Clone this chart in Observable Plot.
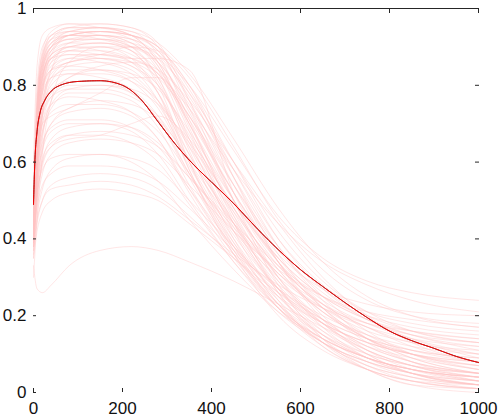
<!DOCTYPE html>
<html>
<head>
<meta charset="utf-8">
<script src="https://cdn.jsdelivr.net/npm/d3@7"></script>
<script src="https://cdn.jsdelivr.net/npm/@observablehq/plot@0.6"></script>
<style>
  html, body { margin: 0; padding: 0; background: #fff; }
  #chart svg { display: block; }
</style>
</head>
<body>
<div id="chart"></div>
<script>
// Shared x grid for the individual (pink) runs
const xs = [0, 8, 20, 40, 80, 150, 220, 280, 350, 450, 550, 650, 750, 850, 1000];

// Individual runs: y values at xs
const runs = [
  [0.45,0.72,0.86,0.92,0.95,0.96,0.95,0.90,0.74,0.50,0.30,0.17,0.09,0.05,0.02],
  [0.42,0.68,0.83,0.90,0.94,0.95,0.93,0.86,0.70,0.47,0.29,0.18,0.11,0.07,0.04],
  [0.48,0.75,0.88,0.93,0.95,0.95,0.93,0.89,0.78,0.56,0.36,0.22,0.13,0.08,0.05],
  [0.40,0.60,0.78,0.88,0.93,0.94,0.92,0.85,0.68,0.44,0.26,0.14,0.07,0.03,0.01],
  [0.44,0.70,0.84,0.90,0.93,0.93,0.91,0.84,0.66,0.42,0.24,0.12,0.06,0.03,0.01],
  [0.46,0.74,0.87,0.92,0.94,0.94,0.93,0.90,0.80,0.60,0.40,0.27,0.19,0.15,0.12],
  [0.38,0.55,0.72,0.84,0.91,0.93,0.92,0.87,0.73,0.52,0.34,0.22,0.14,0.10,0.06],
  [0.43,0.66,0.82,0.89,0.92,0.92,0.90,0.82,0.63,0.40,0.23,0.13,0.07,0.04,0.02],
  [0.47,0.73,0.85,0.90,0.92,0.93,0.92,0.88,0.77,0.58,0.40,0.28,0.21,0.18,0.16],
  [0.41,0.64,0.80,0.87,0.90,0.91,0.89,0.80,0.60,0.38,0.22,0.12,0.06,0.03,0.01],
  [0.45,0.69,0.82,0.88,0.90,0.90,0.88,0.83,0.70,0.50,0.34,0.24,0.18,0.14,0.10],
  [0.39,0.58,0.74,0.84,0.89,0.90,0.87,0.78,0.58,0.36,0.20,0.11,0.06,0.03,0.02],
  [0.44,0.67,0.80,0.86,0.88,0.88,0.86,0.80,0.66,0.46,0.30,0.19,0.12,0.08,0.05],
  [0.46,0.71,0.83,0.87,0.88,0.87,0.85,0.78,0.62,0.42,0.27,0.17,0.11,0.07,0.04],
  [0.42,0.62,0.76,0.83,0.86,0.87,0.86,0.82,0.72,0.54,0.38,0.27,0.20,0.16,0.13],
  [0.40,0.57,0.72,0.81,0.85,0.86,0.84,0.76,0.58,0.37,0.22,0.13,0.08,0.05,0.03],
  [0.43,0.63,0.76,0.82,0.84,0.84,0.82,0.75,0.60,0.41,0.27,0.18,0.13,0.10,0.08],
  [0.45,0.66,0.78,0.82,0.83,0.82,0.79,0.72,0.57,0.38,0.24,0.15,0.09,0.06,0.04],
  [0.37,0.52,0.66,0.76,0.82,0.84,0.83,0.79,0.68,0.50,0.35,0.25,0.19,0.15,0.11],
  [0.41,0.58,0.70,0.77,0.80,0.80,0.78,0.71,0.56,0.37,0.23,0.14,0.09,0.06,0.03],
  [0.44,0.62,0.72,0.77,0.79,0.79,0.77,0.72,0.60,0.44,0.31,0.22,0.16,0.13,0.10],
  [0.39,0.55,0.67,0.74,0.78,0.78,0.76,0.69,0.54,0.36,0.22,0.13,0.08,0.05,0.02],
  [0.42,0.58,0.68,0.73,0.75,0.75,0.73,0.68,0.57,0.42,0.30,0.22,0.17,0.14,0.12],
  [0.40,0.54,0.64,0.70,0.73,0.74,0.72,0.66,0.53,0.36,0.23,0.15,0.10,0.07,0.05],
  [0.43,0.57,0.65,0.69,0.71,0.71,0.69,0.64,0.53,0.38,0.26,0.18,0.13,0.10,0.07],
  [0.38,0.50,0.60,0.66,0.69,0.70,0.69,0.65,0.56,0.43,0.31,0.23,0.18,0.15,0.13],
  [0.41,0.53,0.61,0.65,0.67,0.67,0.65,0.60,0.49,0.34,0.22,0.14,0.09,0.06,0.04],
  [0.39,0.49,0.57,0.62,0.65,0.66,0.65,0.62,0.54,0.42,0.32,0.25,0.21,0.19,0.17],
  [0.42,0.52,0.58,0.61,0.62,0.62,0.60,0.55,0.45,0.32,0.21,0.14,0.09,0.06,0.04],
  [0.37,0.46,0.53,0.58,0.61,0.62,0.61,0.58,0.50,0.38,0.27,0.19,0.14,0.11,0.09],
  [0.40,0.48,0.54,0.57,0.59,0.59,0.58,0.55,0.48,0.37,0.27,0.20,0.15,0.12,0.10],
  [0.36,0.44,0.50,0.54,0.56,0.57,0.56,0.53,0.46,0.35,0.25,0.18,0.13,0.10,0.08],
  [0.38,0.45,0.50,0.53,0.54,0.55,0.54,0.51,0.45,0.36,0.28,0.22,0.18,0.16,0.14],
  [0.35,0.42,0.47,0.50,0.52,0.53,0.52,0.50,0.44,0.35,0.26,0.19,0.14,0.11,0.09],
  [0.33,0.27,0.26,0.28,0.33,0.37,0.38,0.37,0.34,0.29,0.23,0.17,0.12,0.09,0.06],
  [0.45,0.70,0.82,0.87,0.89,0.88,0.87,0.87,0.84,0.52,0.34,0.22,0.14,0.09,0.05],
  [0.46,0.72,0.85,0.90,0.92,0.92,0.91,0.88,0.80,0.63,0.46,0.35,0.29,0.26,0.24],
  [0.43,0.67,0.81,0.87,0.89,0.89,0.87,0.83,0.74,0.58,0.44,0.34,0.28,0.24,0.21],
  [0.44,0.70,0.84,0.90,0.93,0.94,0.93,0.90,0.82,0.64,0.45,0.32,0.24,0.20,0.18],
  [0.47,0.76,0.89,0.94,0.96,0.96,0.95,0.91,0.76,0.50,0.28,0.14,0.06,0.02,0.00],
  [0.44,0.71,0.85,0.91,0.94,0.95,0.94,0.88,0.71,0.46,0.26,0.13,0.06,0.02,0.01],
  [0.41,0.65,0.81,0.89,0.93,0.94,0.93,0.89,0.76,0.54,0.34,0.20,0.11,0.06,0.03],
  [0.45,0.72,0.86,0.91,0.93,0.93,0.91,0.85,0.70,0.48,0.30,0.18,0.10,0.05,0.02],
  [0.48,0.77,0.88,0.92,0.93,0.92,0.89,0.81,0.64,0.43,0.27,0.16,0.09,0.05,0.02],
  [0.43,0.68,0.82,0.88,0.91,0.92,0.90,0.86,0.75,0.56,0.38,0.25,0.16,0.10,0.06],
  [0.40,0.62,0.78,0.86,0.90,0.91,0.90,0.87,0.78,0.60,0.42,0.29,0.21,0.16,0.13],
  [0.46,0.70,0.83,0.88,0.90,0.89,0.86,0.78,0.60,0.39,0.23,0.13,0.07,0.04,0.02],
  [0.42,0.64,0.78,0.84,0.87,0.88,0.87,0.83,0.71,0.52,0.35,0.23,0.15,0.10,0.07],
  [0.44,0.66,0.79,0.85,0.87,0.86,0.83,0.76,0.62,0.44,0.29,0.19,0.12,0.08,0.05],
  [0.39,0.59,0.74,0.82,0.86,0.87,0.85,0.80,0.67,0.48,0.32,0.21,0.14,0.10,0.07],
  [0.45,0.67,0.79,0.84,0.85,0.84,0.81,0.74,0.59,0.40,0.25,0.15,0.09,0.06,0.03],
  [0.41,0.60,0.73,0.80,0.83,0.83,0.81,0.76,0.64,0.47,0.33,0.23,0.17,0.13,0.11],
  [0.43,0.62,0.74,0.79,0.81,0.81,0.78,0.71,0.57,0.39,0.25,0.16,0.10,0.07,0.05],
  [0.40,0.56,0.68,0.75,0.79,0.80,0.79,0.75,0.65,0.49,0.35,0.25,0.19,0.16,0.14],
  [0.44,0.60,0.70,0.75,0.77,0.76,0.73,0.66,0.52,0.35,0.22,0.14,0.09,0.06,0.04],
  [0.38,0.52,0.63,0.70,0.74,0.76,0.75,0.71,0.61,0.45,0.31,0.21,0.15,0.11,0.08],
  [0.42,0.55,0.63,0.68,0.70,0.70,0.68,0.62,0.50,0.34,0.21,0.13,0.08,0.05,0.03],
  [0.40,0.51,0.59,0.64,0.67,0.68,0.67,0.64,0.56,0.44,0.33,0.25,0.20,0.17,0.15],
  [0.46,0.73,0.87,0.93,0.95,0.95,0.94,0.91,0.83,0.66,0.48,0.34,0.25,0.20,0.17],
  [0.47,0.74,0.86,0.91,0.93,0.94,0.93,0.90,0.79,0.58,0.38,0.24,0.14,0.08,0.04],
  [0.60,0.85,0.93,0.95,0.96,0.95,0.93,0.86,0.69,0.45,0.27,0.15,0.08,0.04,0.01],
  [0.55,0.80,0.90,0.93,0.94,0.93,0.90,0.82,0.65,0.44,0.28,0.18,0.11,0.07,0.03],
  [0.30,0.45,0.62,0.76,0.86,0.90,0.90,0.86,0.74,0.54,0.37,0.26,0.19,0.14,0.09],
  [0.35,0.50,0.60,0.64,0.66,0.67,0.70,0.72,0.66,0.48,0.32,0.21,0.14,0.09,0.05],
  [0.44,0.68,0.80,0.84,0.86,0.88,0.90,0.89,0.80,0.56,0.34,0.19,0.10,0.05,0.02],
  [0.42,0.62,0.70,0.72,0.74,0.78,0.82,0.82,0.72,0.50,0.33,0.23,0.17,0.12,0.08],
  [0.46,0.72,0.84,0.89,0.91,0.91,0.89,0.84,0.72,0.52,0.36,0.27,0.23,0.21,0.20],
  [0.40,0.60,0.72,0.78,0.82,0.85,0.86,0.84,0.76,0.60,0.44,0.30,0.20,0.13,0.08]
];

// Mean curve
const meanX = [0, 3, 8, 15, 25, 40, 60, 100, 150, 200, 240, 280, 320, 360, 400, 450, 500, 550, 600, 650, 700, 750, 800, 850, 900, 950, 1000];
const meanY = [0.49, 0.60, 0.68, 0.73, 0.76, 0.785, 0.80, 0.81, 0.812, 0.80, 0.765, 0.705, 0.645, 0.593, 0.548, 0.492, 0.43, 0.372, 0.32, 0.276, 0.234, 0.195, 0.16, 0.135, 0.115, 0.094, 0.078];

// Tick values
const xTicks = [0, 200, 400, 600, 800, 1000];
const yTicks = [0, 0.2, 0.4, 0.6, 0.8, 1];

const runRows = runs.flatMap((ys, id) => ys.map((y, i) => ({id, x: xs[i], y})));
const meanRows = meanX.map((x, i) => ({x, y: meanY[i]}));

const font = "Liberation Sans, Arial, Helvetica, sans-serif";
const axisColor = "#262626";

const chart = Plot.plot({
  width: 502,
  height: 418,
  marginLeft: 33,
  marginRight: 24,
  marginTop: 8,
  marginBottom: 26,
  style: {fontFamily: font, fontSize: "17px", color: "#111", background: "#fff"},
  x: {domain: [0, 1000]},
  y: {domain: [0, 1]},
  marks: [
    Plot.line(runRows, {x: "x", y: "y", z: "id", stroke: "#ffc4c4", strokeOpacity: 0.6, strokeWidth: 0.7, curve: "monotone-x"}),
    Plot.line(meanRows, {x: "x", y: "y", stroke: "#200000", strokeWidth: 0.7, curve: "monotone-x"}),
    Plot.line(meanRows, {x: "x", y: "y", stroke: "#ff0000", strokeWidth: 1, strokeDasharray: "4,1", curve: "monotone-x"}),
    Plot.ruleY([1], {stroke: axisColor, strokeWidth: 1.2}),
    // labels
    Plot.axisY(yTicks, {anchor: "left", tickSize: 0, tickPadding: 7, label: null, tickFormat: d => String(d), fontSize: 17}),
    Plot.axisX(xTicks, {anchor: "bottom", tickSize: 0, tickPadding: 9, label: null, tickFormat: d => String(d), fontSize: 17}),
    // inward ticks on all four sides
    Plot.axisY(yTicks, {anchor: "left", tickSize: 3, dx: 3, tickFormat: () => "", label: null, stroke: axisColor}),
    Plot.axisY(yTicks, {anchor: "right", tickSize: 4, dx: -4, tickFormat: () => "", label: null, stroke: axisColor}),
    Plot.axisX(xTicks, {anchor: "top", tickSize: 4, dy: 4, tickFormat: () => "", label: null, stroke: axisColor}),
    Plot.axisX(xTicks, {anchor: "bottom", tickSize: 4, dy: -4, tickFormat: () => "", label: null, stroke: axisColor})
  ]
});
document.getElementById("chart").appendChild(chart);
</script>
</body>
</html>
